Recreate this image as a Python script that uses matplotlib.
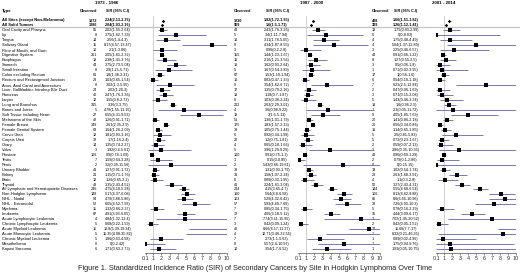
import numpy as np
import matplotlib
matplotlib.use("Agg")
import matplotlib.pyplot as plt

plt.rcParams['font.family'] = ['Liberation Sans', 'DejaVu Sans']

sites = ["All Sites (except Non-Melanoma)", "All Solid Tumors", "Oral Cavity and Pharynx", "Lip",
         "Tongue", "Salivary Gland", "Floor of Mouth, and Gum", "Digestive System", "Esophagus",
         "Stomach", "Small Intestine", "Colon excluding Rectum", "Rectum and Rectosigmoid Junction",
         "Anus, Anal Canal and Anorectum", "Liver, Gallbladder, Intrahep Bile Duct", "Pancreas",
         "Larynx", "Lung and Bronchus", "Bones and Joints", "Soft Tissue including Heart",
         "Melanoma of the Skin", "Female Breast", "Female Genital System", "Cervix Uteri",
         "Corpus Uteri", "Ovary", "Vulva", "Prostate", "Testis", "Penis", "Urinary Bladder",
         "Kidney", "Brain", "Thyroid", "All Lymphatic and Hematopoietic Diseases",
         "Non-Hodgkin Lymphoma", "NHL - Nodal", "NHL - Extranodal", "Myeloma", "Leukemia",
         "Acute Lymphocytic Leukemia", "Chronic Lymphocytic Leukemia", "Acute Myeloid Leukemia",
         "Acute Monocytic Leukemia", "Chronic Myeloid Leukemia", "Mesothelioma", "Kaposi Sarcoma"]

periods = ["1973 - 1986", "1987 - 2000", "2001 - 2014"]

# 1973 - 1986
obs_1 = [1872, 1286, 55, 8, 14, 15, 10, 261, 18, 44, 8, 61, 23, 8, 24, 40, 12, 315, 5, 27, 42, 349,
         63, 12, 32, 14, 3, 106, 7, 2, 41, 21, 12, 43, 246, 148, 94, 52, 11, 87, 4, 5, 11, 5, 5, 0, 6]
sir_1 = [2.24, 2.04, 2.02, 3.75, 2.56, 8.17, 2.1, 2.05, 2.38, 3.75, 2.9, 1.8, 1.03, 3.02, 2.02, 2.47,
         1.55, 3.36, 4.78, 6.55, 1.26, 2.61, 1.64, 1.81, 1.7, 1.35, 1.92, 0.9, 1.59, 3.2, 1.27, 1.15,
         1.26, 3.35, 4.75, 5.17, 4.79, 6.05, 1.32, 4.91, 4.84, 0.68, 10.8, 15.35, 1.96, 0, 1.71]
lo_1 = [2.13, 1.93, 1.55, 1.62, 1.4, 4.57, 1, 1.81, 1.41, 2.73, 1.25, 1.38, 0.65, 1.3, 1.29, 1.76,
        0.8, 3, 1.55, 4.31, 0.91, 2.35, 1.26, 0.93, 1.16, 0.74, 0.4, 0.74, 0.64, 0.39, 0.91, 0.71,
        0.65, 2.43, 4.18, 4.37, 3.88, 4.52, 0.66, 3.93, 1.32, 0.22, 5.39, 4.98, 0.63, 0, 0.63]
hi_1 = [2.35, 2.16, 2.64, 7.39, 4.3, 13.47, 3.86, 2.32, 3.76, 5.04, 5.71, 2.31, 1.54, 5.95, 3, 3.36,
        2.72, 3.75, 11.15, 9.53, 1.71, 2.9, 2.09, 3.16, 2.4, 2.27, 5.61, 1.09, 3.28, 11.56, 1.72,
        1.76, 2.2, 4.52, 5.38, 6.08, 5.86, 7.93, 2.37, 6.05, 12.4, 1.59, 19.34, 35.82, 4.58, 2.42, 3.73]

# 1987 - 2000
obs_2 = [1230, 969, 44, 5, 16, 8, 3, 155, 15, 16, 5, 67, 16, 9, 17, 18, 6, 212, 4, 13, 51, 175, 39,
         6, 22, 4, 5, 100, 1, 2, 39, 31, 6, 41, 244, 160, 103, 57, 7, 72, 7, 3, 42, 4, 7, 8, 10]
sir_2 = [1.82, 1.6, 2.43, 3.4, 3.11, 4.34, 0.96, 1.44, 2.16, 1.62, 1.67, 1.53, 0.82, 3.54, 1.35, 1.18,
         1.03, 2.63, 3.6, 3, 1.36, 1.83, 1.05, 0.92, 1.2, 0.65, 3.96, 0.91, 0.15, 5.43, 1.31, 1.58,
         0.89, 2.24, 4.15, 5.64, 5.29, 5.93, 0.85, 4.06, 7.74, 0.42, 8.66, 12.71, 2.73, 5.57, 3.54]
lo_2 = [1.72, 1.5, 1.76, 1.11, 1.78, 1.87, 0.2, 1.23, 1.21, 0.93, 0.54, 1.19, 0.47, 1.62, 0.79, 0.7,
        0.38, 2.29, 0.98, 1.6, 1.01, 1.57, 0.75, 0.34, 0.75, 0.18, 1.29, 0.75, 0, 0.66, 0.93, 1.07,
        0.33, 1.61, 3.65, 4.8, 4.32, 4.49, 0.34, 3.18, 3.11, 0.09, 6.17, 3.46, 1.1, 2.4, 1.7]
hi_2 = [1.93, 1.71, 3.26, 7.94, 5.05, 8.55, 2.8, 1.67, 3.56, 2.64, 3.89, 1.94, 1.33, 6.72, 2.16, 1.87,
        2.24, 3.01, 9.22, 5.13, 1.79, 2.13, 1.44, 1.99, 1.81, 1.66, 9.25, 1.1, 0.85, 19.61, 1.79,
        2.24, 1.95, 3.04, 4.7, 6.58, 6.42, 7.68, 1.75, 5.12, 15.95, 1.24, 11.37, 32.55, 5.63, 10.97, 6.52]

# 2001 - 2014
obs_3 = [408, 309, 13, 0, 4, 4, 3, 44, 8, 3, 1, 17, 6, 7, 2, 3, 5, 19, 1, 9, 20, 20, 16, 5, 5, 2, 2,
         43, 2, 0, 13, 28, 4, 50, 144, 106, 65, 39, 5, 35, 3, 2, 27, 1, 1, 1, 1]
sir_3 = [1.66, 1.26, 1.75, 0, 1.75, 5.04, 2.25, 0.91, 1.27, 0.5, 0.71, 1, 0.54, 6.23, 0.47, 0.71,
         1.43, 1.6, 2.1, 4.05, 1.41, 0.56, 1.14, 2.5, 0.72, 0.59, 2.86, 0.96, 0.79, 0, 1.02, 2.63,
         1.1, 3.27, 5.55, 8.13, 8.6, 7.26, 0.78, 4.44, 7.02, 0.42, 11.68, 8.32, 0.89, 1.75, 1.93]
lo_3 = [1.51, 1.12, 0.93, 0, 0.48, 1.37, 0.46, 0.66, 0.55, 0.06, 0.02, 0.58, 0.19, 2.5, 0.06, 0.15,
        0.46, 0.96, 0.05, 1.85, 0.86, 0.34, 0.65, 0.81, 0.23, 0.07, 0.35, 0.69, 0.1, 0, 0.54, 1.68,
        0.3, 2.43, 4.68, 6.62, 6.65, 4.93, 0.16, 3.09, 1.45, 0.05, 7.7, 0.21, 0.02, 0.04, 0.05]
hi_3 = [1.82, 1.41, 2.99, 8.03, 4.49, 12.89, 6.57, 1.22, 2.5, 1.8, 3.95, 1.6, 1.18, 12.84, 1.69, 2.08,
        3.34, 2.5, 11.72, 7.69, 2.18, 0.86, 1.85, 5.83, 1.67, 2.13, 10.35, 1.29, 2.86, 15.15, 1.74,
        3.91, 2.8, 4.31, 6.54, 9.88, 10.96, 10.3, 2.29, 6.17, 20.52, 1.52, 17, 46.35, 4.96, 9.76, 10.75]

ticks = [0.1, 1, 2, 3, 4, 5, 6, 7, 8, 9, 10]

W, H = 520, 276
ROW0, DY = 20.5, 4.97
AX_TOP, AX_BOT = 16, 253
ci_color = '#7878ac'
NUM_FS = 2.7

fig = plt.figure(figsize=(W / 100, H / 100), dpi=100)
bg = fig.add_axes([0, 0, 1, 1])
bg.set_xlim(0, W)
bg.set_ylim(H, 0)
bg.axis('off')


def ypix(i):
    return ROW0 + i * DY


# left labels
bg.text(2, 10.8, "Type", fontsize=3.2, fontweight='bold', va='center')
for i, s in enumerate(sites):
    bg.text(2, ypix(i), s, fontsize=2.85, va='center', fontweight='bold' if i < 2 else 'normal')

bg.plot([0, W], [27.3, 27.3], color='#c4c4c4', lw=0.9)

# per panel layout: title x, observed x / align, sir centre, forest x0, x10
panels = [
    dict(title_x=107, obs_x=97, obs_ha='right', sir_x=118, x0=145, x10=227,
         obs=obs_1, sir=sir_1, lo=lo_1, hi=hi_1),
    dict(title_x=312, obs_x=234, obs_ha='left', sir_x=277, x0=298, x10=380,
         obs=obs_2, sir=sir_2, lo=lo_2, hi=hi_2),
    dict(title_x=444, obs_x=372, obs_ha='left', sir_x=406, x0=436, x10=516,
         obs=obs_3, sir=sir_3, lo=lo_3, hi=hi_3),
]

n = len(sites)
for p, per in zip(panels, periods):
    bg.text(p['title_x'], 2.5, per, fontsize=3.2, fontweight='bold', ha='center', va='center')
    bg.text(p['obs_x'], 10.8, "Observed", fontsize=NUM_FS, fontweight='bold',
            ha=p['obs_ha'], va='center')
    bg.text(p['sir_x'], 10.8, "SIR (95% C.I)", fontsize=NUM_FS, fontweight='bold',
            ha='center', va='center')
    for i in range(n):
        fw = 'bold' if i < 2 else 'normal'
        bg.text(p['obs_x'], ypix(i), str(p['obs'][i]), fontsize=NUM_FS, fontweight=fw,
                ha=p['obs_ha'], va='center')
        txt = f"{p['sir'][i]:g}({p['lo'][i]:g}-{p['hi'][i]:g})"
        bg.text(p['sir_x'], ypix(i), txt, fontsize=NUM_FS, fontweight=fw, ha='center', va='center')

    ax = fig.add_axes([p['x0'] / W, 1 - AX_BOT / H, (p['x10'] - p['x0']) / W, (AX_BOT - AX_TOP) / H])
    ax.patch.set_alpha(0)
    ybot = (AX_BOT - ROW0) / DY
    ytop = (AX_TOP - ROW0) / DY
    ax.set_ylim(ybot, ytop)
    ax.set_xlim(0, 10)
    ax.axvline(1, color='#c8c8c8', lw=0.6, zorder=0)
    rows = np.arange(n)
    ax.hlines(rows, p['lo'], p['hi'], color=ci_color, lw=0.7)
    ax.plot(p['sir'][2:], rows[2:], 's', color='black', ms=2.5, mew=0)
    ax.plot(p['sir'][:2], rows[:2], 'D', color='black', ms=1.7, mew=0)
    for side in ['top', 'right', 'left']:
        ax.spines[side].set_visible(False)
    ax.spines['bottom'].set_linewidth(0.5)
    ax.spines['bottom'].set_color('#555555')
    ax.set_yticks([])
    ax.set_xticks(ticks)
    ax.set_xticklabels([f"{t:g}" for t in ticks])
    ax.tick_params(axis='x', labelsize=3.9, length=1.5, width=0.4, pad=1, colors='#333333')

bg.text(255, 269, "Figure 1. Standardized Incidence Ratio (SIR) of Secondary Cancers by Site in "
        "Hodgkin Lymphoma Over Time", fontsize=5.3, ha='center', va='center', color='#222222')

fig.savefig("out.png", dpi=100)
